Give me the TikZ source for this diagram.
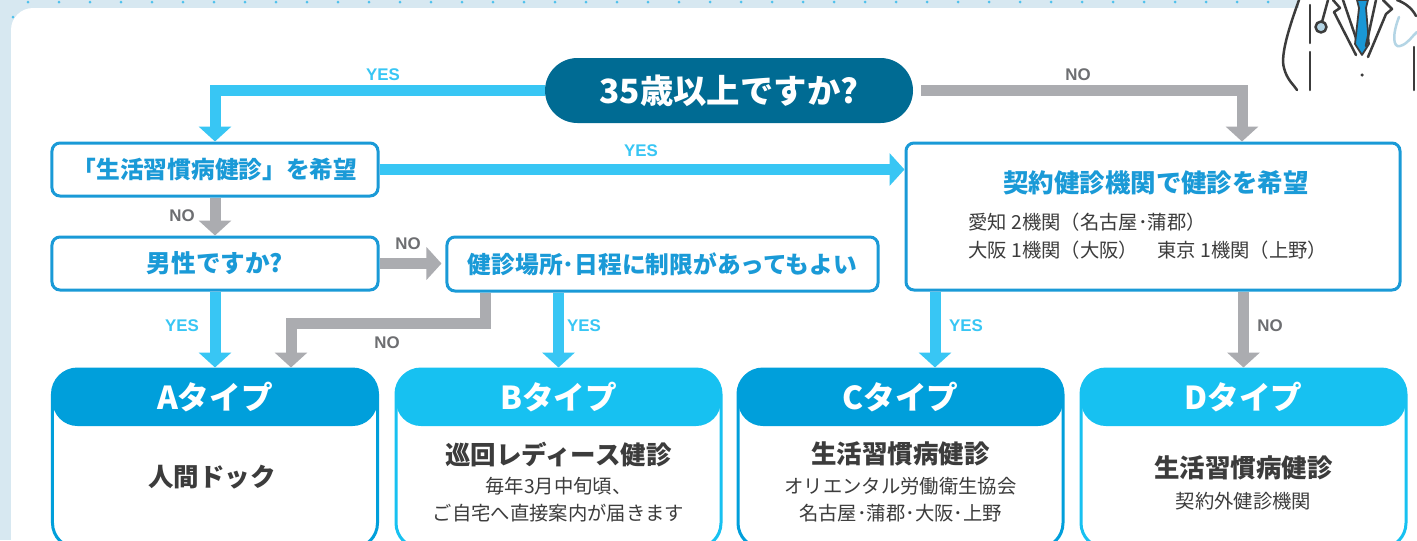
\documentclass[tikz,border=0pt]{standalone}
\usepackage{fontspec}
\setmainfont{Liberation Sans}
\newfontfamily\jp{Noto Sans CJK JP}
\usepackage{xcolor}
\usetikzlibrary{arrows.meta, positioning, calc}

\definecolor{panelbg}{HTML}{D7E8F1}
\definecolor{dotblue}{HTML}{4EC1EC}
\definecolor{arrowblue}{HTML}{38C6F4}
\definecolor{arrowgrey}{HTML}{ABACB0}
\definecolor{labelgrey}{HTML}{6D6E71}
\definecolor{boxblue}{HTML}{1A9AD7}
\definecolor{qteal}{HTML}{006B93}
\definecolor{typedark}{HTML}{009FDB}
\definecolor{typelight}{HTML}{17C1F1}
\definecolor{inktext}{HTML}{3C3C3C}
\definecolor{tieblue}{HTML}{1A97D5}
\definecolor{scopeblue}{HTML}{B4D5E5}

\begin{document}
\begin{tikzpicture}[x=0.2mm, y=-0.2mm,
    yesline/.style={draw=arrowblue, line width=2.2mm, -{Triangle[width=6.4mm, length=3mm]}},
    noline/.style={yesline, draw=arrowgrey},
    yeslabel/.style={text=arrowblue, inner sep=0pt, font=\bfseries\fontsize{9.6}{11}\selectfont},
    nolabel/.style={yeslabel, text=labelgrey},
    askbox/.style={draw=boxblue, line width=0.6mm, rounded corners=1.6mm, fill=white, inner sep=0pt,
        minimum width=65.2mm, minimum height=10.6mm, text=boxblue, font=\jp\bfseries\fontsize{13.5}{16}\selectfont},
    typebox/.style={line width=0.6mm, rounded corners=5mm, fill=white, inner sep=0pt,
        minimum width=65mm, minimum height=35.8mm},
    typehead/.style={text=white, inner sep=0pt, font=\jp\bfseries\fontsize{18}{20}\selectfont},
    typetitle/.style={text=inktext, inner sep=0pt, font=\jp\bfseries\fontsize{14.5}{17}\selectfont},
    typenote/.style={text=inktext, inner sep=0pt, align=center, font=\jp\fontsize{11}{15.3}\selectfont},
    coat/.style={draw=inktext, line width=0.5mm, line cap=round, line join=round}]

    \useasboundingbox (0,0) rectangle (1417,540);

    % --- Background and panel ---
    \fill[panelbg] (0,0) rectangle (1417,540);
    \foreach \i in {0,...,40}
        \fill[dotblue] (28+31*\i,2) circle[radius=0.3mm];
    \fill[dotblue] (13,17) circle[radius=0.3mm];
    \fill[white, rounded corners=4.4mm] (11,620) -- (11,8) -- (1460,8) -- (1460,620) -- cycle;

    % --- Doctor ---
    \fill[white] (1299,0) rectangle (1417,8);
    \draw[coat] (1299,0) .. controls (1290,25) and (1280,55) .. (1284,68) .. controls (1287,80) and (1294,85) .. (1297,90);
    \draw[coat] (1310,5) -- (1310,43);
    \draw[coat] (1310,52) -- (1310,90);
    \draw[coat] (1328,0) -- (1322,22);
    \draw[coat, fill=scopeblue] (1321,27) circle[radius=1.1mm];
    \draw[coat] (1333,0) -- (1340,8) -- (1334,12) -- (1356,55);
    \draw[coat] (1343,0) -- (1358,44);
    \draw[coat, fill=tieblue, line width=0.35mm] (1357,0) -- (1368,0) -- (1366,8) -- (1369,44) -- (1362,55) -- (1355,44) -- (1359,8) -- cycle;
    \draw[coat] (1376,0) -- (1366,46);
    \draw[coat] (1383,0) -- (1392,9) -- (1386,14) -- (1368,57);
    \draw[coat] (1397,0) .. controls (1405,3) and (1412,8) .. (1416,16);
    \draw[scopeblue, line width=0.5mm, line cap=round] (1399,17) .. controls (1392,35) and (1393,48) .. (1400,46) .. controls (1408,44) and (1412,36) .. (1417,32);
    \draw[coat] (1414,47) -- (1414,90);
    \fill[inktext] (1362,75) circle[radius=0.35mm];

    % --- Question ---
    \node[fill=qteal, rounded corners=6.5mm, minimum width=73.6mm, minimum height=13mm, inner sep=0pt,
        text=white, font=\jp\bfseries\fontsize{19}{21}\selectfont] (age) at (729,90.5) {35歳以上ですか?};

    % --- Left column ---
    \node[askbox] (wish) at (215,169.5) {「生活習慣病健診」を希望};
    \node[askbox, font=\jp\bfseries\fontsize{14}{16}\selectfont] (male) at (215,263.5) {男性ですか?};
    \node[askbox, minimum width=86.2mm, minimum height=10.8mm] (place) at (662.5,264) {健診場所･日程に制限があってもよい};

    % --- Contracted clinics ---
    \node[askbox, minimum width=98.8mm, minimum height=29.4mm] (clinic) at (1153,216.5) {};
    \node[text=boxblue, inner sep=0pt, font=\jp\bfseries\fontsize{14.5}{17}\selectfont] (clinictitle) at (1156,183) {契約健診機関で健診を希望};
    \node[anchor=west, text=inktext, inner sep=0pt, font=\jp\fontsize{11}{13}\selectfont] (aichi) at (968,222) {愛知 2機関（名古屋･蒲郡）};
    \node[anchor=west, text=inktext, inner sep=0pt, font=\jp\fontsize{11}{13}\selectfont] (osaka) at (968,250) {大阪 1機関（大阪）　東京 1機関（上野）};

    % --- Result types ---
    \foreach \t/\cx/\hue in {A/215/typedark, B/558.5/typelight, C/900.5/typedark, D/1243.5/typelight}{
        \node[typebox, draw=\hue, path picture={\fill[\hue] (path picture bounding box.north west) rectangle ([yshift=-11.4mm]path picture bounding box.north east);}] (type\t) at (\cx,458.5) {};
        \node[typehead] (head\t) at (\cx,397.5) {\t タイプ};
    }
    \node[typetitle] (bodyA) at (212,477) {人間ドック};
    \node[typetitle] (bodyB) at (558.5,455) {巡回レディース健診};
    \node[typenote] (noteB) at (558.5,500) {毎年3月中旬頃、\\ご自宅へ直接案内が届きます};
    \node[typetitle] (bodyC) at (900.5,454) {生活習慣病健診};
    \node[typenote] (noteC) at (900.5,500) {オリエンタル労働衛生協会\\名古屋･蒲郡･大阪･上野};
    \node[typetitle] (bodyD) at (1243.5,467.5) {生活習慣病健診};
    \node[typenote] (noteD) at (1243.5,501) {契約外健診機関};

    % --- Arrows ---
    \draw[yesline] (age.west) -| (wish.north);
    \draw[noline] ([xshift=1.6mm]age.east) -| ([xshift=17.8mm]clinic.north);
    \draw[yesline] (wish.east) -- (wish.east -| clinic.west);
    \draw[noline] (wish.south) -- (male.north);
    \draw[noline, shorten >=0.8mm] (male.east) -- (male.east -| place.west);
    \draw[yesline] (male.south) -- (male.south |- typeA.north);
    \draw[noline] ([xshift=-35.5mm]place.south) -- ++(0,31) -| ([xshift=15.2mm]typeA.north);
    \draw[yesline] (typeB.north |- place.south) -- (typeB.north);
    \draw[yesline] ([xshift=6.9mm]typeC.north |- clinic.south) -- ([xshift=6.9mm]typeC.north);
    \draw[noline] (typeD.north |- clinic.south) -- (typeD.north);

    % --- Labels ---
    \node[yeslabel] (yesage) at (383,75) {YES};
    \node[nolabel] (noage) at (1078,75) {NO};
    \node[yeslabel] (yeswish) at (641,151) {YES};
    \node[nolabel] (nowish) at (182,216) {NO};
    \node[nolabel] (nomale) at (408,244) {NO};
    \node[yeslabel] (yesmale) at (182,326) {YES};
    \node[nolabel] (noplace) at (387,343) {NO};
    \node[yeslabel] (yesplace) at (584,326) {YES};
    \node[yeslabel] (yesclinic) at (966,326) {YES};
    \node[nolabel] (noclinic) at (1270,326) {NO};

\end{tikzpicture}
\end{document}
